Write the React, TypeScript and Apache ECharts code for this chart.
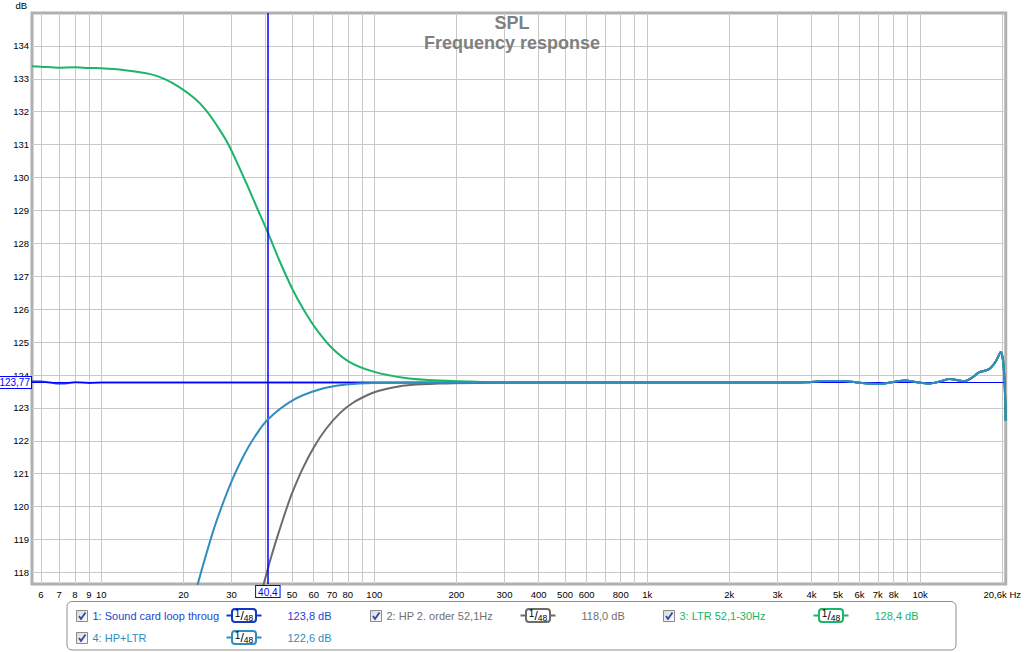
import React, { useEffect, useRef } from "react";
import * as echarts from "echarts";

// ---------- data ----------
const seriesNames = ["1: Sound card loop throug", "2: HP 2. order 52,1Hz", "3: LTR 52,1-30Hz", "4: HP+LTR"];
const seriesColors = ["#1438c8", "#6b6b6b", "#1db46c", "#328dbf"];
const legendTextColors = ["#1e46d2", "#707070", "#19b46b", "#2e8cbe"];
const cursorValueLabels = ["123,8 dB", "118,0 dB", "128,4 dB", "122,6 dB"];

const cursorFreq = 40.4;
const cursorFreqLabel = "40,4";
const cursorLevel = 123.77;
const cursorLevelLabel = "123,77";

// shared high-frequency part (all traces converge)
const tailFreq = [500, 1000, 2000, 3000, 3800, 4500, 5200, 5800, 6500, 7100, 8000, 8860, 9600, 10800, 11800, 12800, 14000, 14500, 15500, 16440, 17900, 18930, 19750, 20260, 20600];
const tailDb = [123.77, 123.77, 123.77, 123.77, 123.78, 123.82, 123.82, 123.78, 123.74, 123.73, 123.79, 123.83, 123.79, 123.74, 123.8, 123.88, 123.83, 123.81, 123.92, 124.08, 124.18, 124.41, 124.7, 124.21, 122.6];

const soundFreq = [5.57, 6, 6.5, 7, 7.5, 8, 9, 10, 20, 50, 100, 200];
const soundDb = [123.8, 123.8, 123.77, 123.74, 123.75, 123.78, 123.76, 123.77, 123.77, 123.77, 123.77, 123.77];

const hpFreq = [38, 40.4, 42, 44, 47.5, 50.2, 54.6, 60, 66.5, 75, 83.3, 95, 104, 113.5, 130, 173, 250, 400];
const hpDb = [117.2, 118.0, 118.5, 119.05, 119.9, 120.45, 121.15, 121.8, 122.36, 122.85, 123.15, 123.4, 123.52, 123.6, 123.68, 123.74, 123.76, 123.77];

const ltrFreq = [5.57, 6, 7, 8, 9, 10, 12, 15, 17, 19.3, 22, 24.2, 27, 29.4, 33.9, 37, 40.4, 44.9, 50.2, 55, 61, 70, 81, 98.6, 130, 173, 250, 400];
const ltrDb = [133.38, 133.37, 133.34, 133.35, 133.33, 133.32, 133.27, 133.15, 133.0, 132.75, 132.4, 132.04, 131.48, 130.96, 129.85, 129.12, 128.4, 127.48, 126.6, 126.0, 125.42, 124.82, 124.4, 124.11, 123.91, 123.83, 123.79, 123.77];

const sumFreq = [21.5, 22.5, 25.6, 27.8, 30.3, 33, 35.8, 40.4, 50.2, 62.9, 78.7, 100, 200];
const sumDb = [116.95, 117.62, 119.22, 120.07, 120.85, 121.5, 122.02, 122.62, 123.23, 123.56, 123.71, 123.76, 123.77];

const gridFreqs = [6, 7, 8, 9, 10, 20, 30, 40, 50, 60, 70, 80, 90, 100, 200, 300, 400, 500, 600, 700, 800, 900, 1000, 2000, 3000, 4000, 5000, 6000, 7000, 8000, 9000, 10000, 20000];
const xTickFreqs = [6, 7, 8, 9, 10, 20, 30, 50, 60, 70, 80, 100, 200, 300, 400, 500, 600, 800, 1000, 2000, 3000, 4000, 5000, 6000, 7000, 8000, 10000, 20600];
const xTickLabels = ["6", "7", "8", "9", "10", "20", "30", "50", "60", "70", "80", "100", "200", "300", "400", "500", "600", "800", "1k", "2k", "3k", "4k", "5k", "6k", "7k", "8k", "10k", "20,6k Hz"];
const yTicks = [118, 119, 120, 121, 122, 123, 124, 125, 126, 127, 128, 129, 130, 131, 132, 133, 134];

const xMinFreq = 5.57;
const xMaxFreq = 20600;
const yMin = 117.65;
const yMax = 135;

// ---------- helpers ----------
const lg = (f: number) => Math.log10(f);
const pts = (fs: number[], ds: number[]) => fs.map((f, i) => [lg(f), ds[i]]);
const labelMap: Record<string, string> = {};
xTickFreqs.forEach((f, i) => {
  labelMap[lg(f).toFixed(6)] = xTickLabels[i];
});
const lastLabelKey = lg(xMaxFreq).toFixed(6);

const FONT = '"Liberation Sans", Arial, sans-serif';

function buildLegend(): any[] {
  const els: any[] = [];
  els.push({
    type: "rect",
    shape: { x: 67, y: 601.5, width: 889, height: 48.5, r: 5 },
    style: { fill: "#ffffff", stroke: "#8e8e8e", lineWidth: 1 },
    z: 10,
  });
  const layout = [
    { col: 0, row: 0 },
    { col: 1, row: 0 },
    { col: 2, row: 0 },
    { col: 0, row: 1 },
  ];
  const colX = [76, 370, 663];
  const rowY = [610, 632];
  layout.forEach((l, i) => {
    const x = colX[l.col];
    const y = rowY[l.row];
    const cy = y + 5.5;
    const c = seriesColors[i];
    els.push({
      type: "rect",
      shape: { x: x + 0.5, y: y + 0.5, width: 11, height: 11 },
      style: {
        fill: new echarts.graphic.LinearGradient(0, 0, 1, 1, [
          { offset: 0, color: "#d8d8d8" },
          { offset: 1, color: "#ffffff" },
        ]),
        stroke: "#8a8a8a",
        lineWidth: 1,
      },
      z: 11,
    });
    els.push({
      type: "polyline",
      shape: { points: [[x + 3, y + 6], [x + 5, y + 9], [x + 9.5, y + 2.5]] },
      style: { stroke: "#2c48a0", lineWidth: 1.8, fill: null },
      z: 12,
    });
    els.push({
      type: "text",
      x: x + 16.5,
      y: cy,
      style: { text: seriesNames[i], fill: legendTextColors[i], fontSize: 11, fontFamily: FONT, verticalAlign: "middle", align: "left" },
      z: 11,
    });
    els.push({
      type: "line",
      shape: { x1: x + 150.5, y1: cy, x2: x + 185.5, y2: cy },
      style: { stroke: c, lineWidth: 2 },
      z: 11,
    });
    els.push({
      type: "rect",
      shape: { x: x + 156, y: cy - 6.5, width: 24, height: 13, r: 3 },
      style: { fill: "#ffffff", stroke: c, lineWidth: 2 },
      z: 12,
    });
    els.push({
      type: "text",
      x: x + 168,
      y: cy,
      style: {
        text: "{a|1}{b|/}{c|48}",
        align: "center",
        verticalAlign: "middle",
        fill: "#000",
        rich: {
          a: { fontSize: 10, fontFamily: FONT, fill: "#000", padding: [0, 0, 4, 0] },
          b: { fontSize: 12, fontFamily: FONT, fill: "#000" },
          c: { fontSize: 8.5, fontFamily: FONT, fill: "#000", padding: [4, 0, 0, 0] },
        },
      },
      z: 13,
    });
    els.push({
      type: "text",
      x: x + 211.5,
      y: cy,
      style: { text: cursorValueLabels[i], fill: legendTextColors[i], fontSize: 11, fontFamily: FONT, verticalAlign: "middle", align: "left" },
      z: 11,
    });
  });
  return els;
}

const cursorLabelStyle = {
  show: true,
  position: "start",
  color: "#0000ff",
  fontSize: 10,
  fontFamily: FONT,
  backgroundColor: "#ffffff",
  borderColor: "#0000ff",
  borderWidth: 1,
};

export default function App() {
  const ref = useRef<HTMLDivElement>(null);
  useEffect(() => {
    if (!ref.current) return;
    const chart = echarts.init(ref.current, null, { renderer: "svg" });
    const dataSets = [
      pts(soundFreq.concat(tailFreq), soundDb.concat(tailDb)),
      pts(hpFreq.concat(tailFreq), hpDb.concat(tailDb)),
      pts(ltrFreq.concat(tailFreq), ltrDb.concat(tailDb)),
      pts(sumFreq.concat(tailFreq), sumDb.concat(tailDb)),
    ];
    const series: any[] = dataSets.map((d, i) => ({
      type: "line",
      name: seriesNames[i],
      data: d,
      showSymbol: false,
      symbol: "none",
      smooth: 0.3,
      clip: true,
      lineStyle: { color: seriesColors[i], width: 2 },
      itemStyle: { color: seriesColors[i] },
      emphasis: { disabled: true },
      z: 2 + i,
    }));
    series[3].markLine = {
      silent: true,
      symbol: ["none", "none"],
      animation: false,
      lineStyle: { color: "#0000ff", width: 1, type: "solid", opacity: 1 },
      emphasis: { disabled: true },
      data: [
        {
          xAxis: lg(cursorFreq),
          lineStyle: { color: "#0000ff", width: 1.5, type: "solid" },
          label: { ...cursorLabelStyle, distance: 2, formatter: cursorFreqLabel, padding: [1, 2, 0, 2] },
        },
        {
          yAxis: cursorLevel,
          lineStyle: { color: "#0000ff", width: 1.2, type: "solid" },
          label: { ...cursorLabelStyle, distance: 1, formatter: cursorLevelLabel, padding: [1, 1, 0, 1] },
        },
      ],
    };
    const option: any = {
      animation: false,
      backgroundColor: "#ffffff",
      title: {
        text: "SPL\nFrequency response",
        left: "center",
        top: 8,
        textStyle: { fontSize: 18, fontWeight: "bold", color: "#808080", fontFamily: FONT, lineHeight: 20 },
      },
      grid: {
        left: 32,
        right: 16,
        top: 10,
        bottom: 68,
        show: true,
        borderColor: "#b0b0b0",
        borderWidth: 3,
        backgroundColor: "transparent",
      },
      xAxis: {
        type: "value",
        min: lg(xMinFreq),
        max: lg(xMaxFreq),
        axisLine: { show: false },
        axisTick: { show: false, customValues: gridFreqs.map(lg) },
        splitLine: { show: true, lineStyle: { color: "#c8c8c8", width: 1 } },
        axisLabel: {
          customValues: xTickFreqs.map(lg),
          formatter: (v: number) => {
            const k = v.toFixed(6);
            const t = labelMap[k] ?? "";
            return k === lastLabelKey ? "{e|" + t + "}" : t;
          },
          rich: { e: { color: "#000", fontSize: 9.5, fontFamily: FONT, padding: [0, 7, 0, 0] } },
          color: "#000",
          fontSize: 9.5,
          fontFamily: FONT,
          margin: 5,
          hideOverlap: false,
        },
      },
      yAxis: {
        type: "value",
        min: yMin,
        max: yMax,
        name: "dB",
        nameLocation: "end",
        nameGap: 3,
        nameTextStyle: { color: "#000", fontSize: 9.5, fontFamily: FONT, align: "right", padding: [0, 5, 0, 0] },
        axisLine: { show: false },
        axisTick: { show: false, customValues: yTicks },
        splitLine: { show: true, lineStyle: { color: "#c8c8c8", width: 1 } },
        axisLabel: {
          customValues: yTicks,
          formatter: (v: number) => String(Math.round(v)),
          color: "#000",
          fontSize: 9.5,
          fontFamily: FONT,
          margin: 3,
        },
      },
      series,
      graphic: { elements: buildLegend() },
    };
    chart.setOption(option);
    return () => chart.dispose();
  }, []);
  return (
    <div
      ref={ref}
      style={{ position: "fixed", left: 0, top: 0, width: 1024, height: 652, background: "#fff" }}
    />
  );
}
